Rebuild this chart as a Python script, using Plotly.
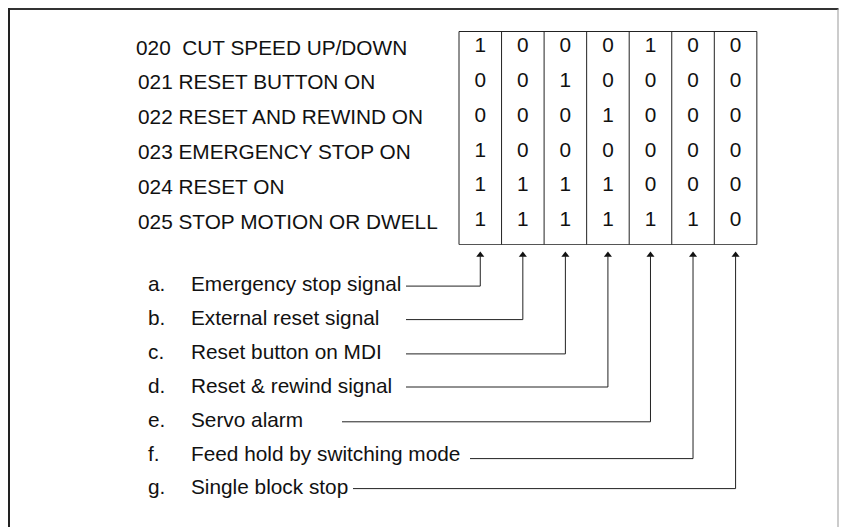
import plotly.graph_objects as go

# ---------------- data ----------------
row_labels = [
    "020  CUT SPEED UP/DOWN",
    "021 RESET BUTTON ON",
    "022 RESET AND REWIND ON",
    "023 EMERGENCY STOP ON",
    "024 RESET ON",
    "025 STOP MOTION OR DWELL",
]
table_values = [
    [1, 0, 0, 0, 1, 0, 0],
    [0, 0, 1, 0, 0, 0, 0],
    [0, 0, 0, 1, 0, 0, 0],
    [1, 0, 0, 0, 0, 0, 0],
    [1, 1, 1, 1, 0, 0, 0],
    [1, 1, 1, 1, 1, 1, 0],
]
signal_letters = ["a.", "b.", "c.", "d.", "e.", "f.", "g."]
signal_names = [
    "Emergency stop signal",
    "External reset signal",
    "Reset button on MDI",
    "Reset & rewind signal",
    "Servo alarm",
    "Feed hold by switching mode",
    "Single block stop",
]

# ---------------- layout constants ----------------
W, H = 847, 527
PAGE_OFF = 8  # default body margin of the html page
FONT = "Arial, Liberation Sans, Helvetica, sans-serif"
FS = 20.8
TXT = "#111111"
LINE = "#222222"

TABLE_X0 = 459.0
COL_W = 42.55
TABLE_Y0 = 31.5
TABLE_Y1 = 244.5
ROW_Y0 = 47.0
ROW_PITCH = 34.8
LABEL_X = [134.5, 136.5, 136.5, 136.5, 136.5, 136.5]

SIG_Y0 = 283.5
SIG_PITCH = 33.9
LETTER_X = 146.5
NAME_X = 189.5
LEADER_START = [406, 406, 406, 406, 342, 470, 353]
LEADER_DY = [2.6, 2.2, 2.6, 1.8, 2.7, 5.6, 1.7]
ARROW_TIP = 251.5
FRAME_RIGHT = 838.0

ncols = len(table_values[0])
nrows = len(table_values)
col_centers = [TABLE_X0 + COL_W * (j + 0.5) for j in range(ncols)]
row_ys = [ROW_Y0 + ROW_PITCH * i for i in range(nrows)]

fig = go.Figure()
shapes = []
annotations = []

# outer frame
shapes.append(dict(type="line", x0=8, y0=9, x1=FRAME_RIGHT + 0.5, y1=9, line=dict(color="#333333", width=2)))
shapes.append(dict(type="line", x0=9, y0=8, x1=9, y1=H + 5, line=dict(color="#222222", width=2)))
shapes.append(dict(type="line", x0=FRAME_RIGHT, y0=9, x1=FRAME_RIGHT, y1=H + 5,
                   line=dict(color="#999999", width=1)))

# table grid
shapes.append(dict(type="line", x0=TABLE_X0, y0=TABLE_Y0, x1=TABLE_X0 + COL_W * ncols, y1=TABLE_Y0,
                   line=dict(color=LINE, width=1)))
shapes.append(dict(type="line", x0=TABLE_X0, y0=TABLE_Y1, x1=TABLE_X0 + COL_W * ncols, y1=TABLE_Y1,
                   line=dict(color="#555555", width=1)))
for j in range(ncols + 1):
    x = TABLE_X0 + COL_W * j
    shapes.append(dict(type="line", x0=x, y0=TABLE_Y0, x1=x, y1=TABLE_Y1, line=dict(color=LINE, width=1)))

# row labels
for i, lab in enumerate(row_labels):
    annotations.append(dict(x=LABEL_X[i], y=row_ys[i], text=lab, showarrow=False, xanchor="left",
                            yanchor="middle", font=dict(family=FONT, size=FS, color=TXT), borderpad=0))

# cell values
cx, cy, ct = [], [], []
for i in range(nrows):
    for j in range(ncols):
        cx.append(col_centers[j])
        cy.append(row_ys[i])
        ct.append(str(table_values[i][j]))
fig.add_trace(go.Scatter(x=cx, y=cy, text=ct, mode="text", textposition="middle center",
                         textfont=dict(family=FONT, size=FS, color=TXT), hoverinfo="skip"))

# signal labels and leaders
ax, ay = [], []
for k, (letter, name) in enumerate(zip(signal_letters, signal_names)):
    y = SIG_Y0 + SIG_PITCH * k
    annotations.append(dict(x=LETTER_X, y=y, text=letter, showarrow=False, xanchor="left", yanchor="middle",
                            font=dict(family=FONT, size=FS, color=TXT), borderpad=0))
    annotations.append(dict(x=NAME_X, y=y, text=name, showarrow=False, xanchor="left", yanchor="middle",
                            font=dict(family=FONT, size=FS, color=TXT), borderpad=0))
    ly = y + LEADER_DY[k]
    xc = col_centers[k]
    shapes.append(dict(type="line", x0=LEADER_START[k], y0=ly, x1=xc, y1=ly, line=dict(color=LINE, width=1)))
    shapes.append(dict(type="line", x0=xc, y0=ly, x1=xc, y1=ARROW_TIP + 4, line=dict(color=LINE, width=1)))
    ax.append(xc)
    ay.append(ARROW_TIP + 3.5)

fig.add_trace(go.Scatter(x=ax, y=ay, mode="markers",
                         marker=dict(symbol="triangle-up", size=7, color="#111111", line=dict(width=0)),
                         hoverinfo="skip"))

FIG_H = H - PAGE_OFF
fig.update_layout(
    width=W - PAGE_OFF, height=FIG_H,
    margin=dict(l=0, r=0, t=0, b=0, pad=0),
    paper_bgcolor="white", plot_bgcolor="white",
    showlegend=False,
    xaxis=dict(range=[PAGE_OFF, W], visible=False, fixedrange=True),
    yaxis=dict(range=[PAGE_OFF + FIG_H, PAGE_OFF], visible=False, fixedrange=True),
    shapes=shapes,
    annotations=annotations,
)

fig.write_html("out.html")
